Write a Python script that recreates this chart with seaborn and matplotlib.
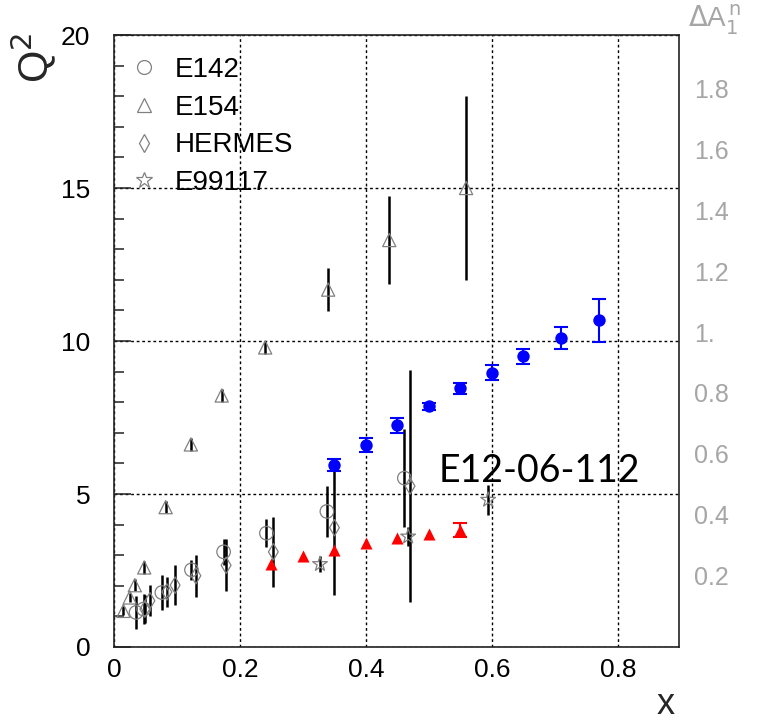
import matplotlib
matplotlib.use("Agg")
import matplotlib.pyplot as plt
from matplotlib.lines import Line2D
from matplotlib.ticker import MultipleLocator
import numpy as np
import pandas as pd
import seaborn as sns

# datos
e142_x = [0.035, 0.047, 0.076, 0.123, 0.174, 0.242, 0.338, 0.461]
e142_q2 = [1.13, 1.24, 1.78, 2.52, 3.11, 3.72, 4.43, 5.52]
e142_err = [0.55, 0.50, 0.57, 0.33, 0.42, 0.46, 0.83, 1.60]

e154_x = [0.015, 0.025, 0.033, 0.048, 0.082, 0.122, 0.171, 0.240, 0.340, 0.437, 0.559]
e154_q2 = [1.18, 1.62, 2.02, 2.60, 4.57, 6.62, 8.22, 9.79, 11.68, 13.3, 15.0]
e154_err = [0.15, 0.15, 0.20, 0.20, 0.20, 0.20, 0.20, 0.20, 0.70, 1.45, 3.0]

hermes_x = [0.049, 0.057, 0.084, 0.097, 0.130, 0.178, 0.253, 0.350, 0.470]
hermes_q2 = [1.24, 1.51, 1.80, 2.02, 2.33, 2.67, 3.11, 3.90, 5.26]
hermes_err = [0.45, 0.50, 0.50, 0.65, 0.68, 0.85, 1.14, 2.20, 3.80]

e99117_x = [0.327, 0.467, 0.594]
e99117_q2 = [2.71, 3.61, 4.81]
e99117_err = [0.25, 0.30, 0.50]

new_x = [0.35, 0.40, 0.45, 0.50, 0.55, 0.60, 0.65, 0.71, 0.77]
new_q2 = [5.94, 6.59, 7.24, 7.86, 8.45, 8.97, 9.50, 10.10, 10.67]
new_err = [0.20, 0.23, 0.26, 0.10, 0.17, 0.26, 0.24, 0.35, 0.70]

red_x = [0.25, 0.30, 0.35, 0.40, 0.45, 0.50, 0.55]
red_q2 = [2.71, 2.98, 3.17, 3.39, 3.55, 3.69, 3.82]
red_err = [0, 0, 0, 0, 0, 0, 0.22]

right_ticks = [0.2, 0.4, 0.6, 0.8, 1.0, 1.2, 1.4, 1.6, 1.8]
right_labels = ["0.2", "0.4", "0.6", "0.8", "1.", "1.2", "1.4", "1.6", "1.8"]

sns.set_theme(style="white")
plt.rcParams["font.family"] = ["Liberation Sans", "DejaVu Sans"]

W, H = 761, 721
fig = plt.figure(figsize=(W / 100, H / 100), dpi=100)
ax = fig.add_axes([114 / W, 1 - 647 / H, (679 - 114) / W, (647 - 35) / H])

gray = "#808080"
open_sets = [
    ("E142", e142_x, e142_q2, e142_err, "o", 95),
    ("E154", e154_x, e154_q2, e154_err, "^", 90),
    ("HERMES", hermes_x, hermes_q2, hermes_err, "d", 70),
    ("E99117", e99117_x, e99117_q2, e99117_err, "*", 125),
]
for name, xs, ys, es, mk, size in open_sets:
    ax.errorbar(xs, ys, yerr=es, fmt="none", ecolor="black", elinewidth=1.8, zorder=2)
    df = pd.DataFrame({"x": xs, "Q2": ys})
    sns.scatterplot(data=df, x="x", y="Q2", marker=mk, s=size, facecolors="none",
                    edgecolor=gray, linewidth=0.9, ax=ax, zorder=3)

# E12-06-112 proyectado
ax.errorbar(new_x, new_q2, yerr=new_err, fmt="none", ecolor="blue", elinewidth=1.5,
            capsize=5, capthick=1.5, zorder=4)
sns.scatterplot(x=new_x, y=new_q2, marker="o", s=80, color="blue", edgecolor="blue",
                linewidth=0, ax=ax, zorder=5)

red_mask = np.array(red_err) > 0
ax.errorbar(np.array(red_x)[red_mask], np.array(red_q2)[red_mask],
            yerr=np.array(red_err)[red_mask], fmt="none", ecolor="red",
            elinewidth=1.5, capsize=5, capthick=1.5, zorder=4)
sns.scatterplot(x=red_x, y=red_q2, marker="^", s=75, color="red", edgecolor="red",
                linewidth=0, ax=ax, zorder=5)

ax.set_xlim(0, 0.897)
ax.set_ylim(0, 20)
ax.xaxis.set_major_locator(MultipleLocator(0.2))
ax.xaxis.set_minor_locator(MultipleLocator(0.05))
ax.yaxis.set_major_locator(MultipleLocator(5))
ax.yaxis.set_minor_locator(MultipleLocator(1))
ax.set_xticks([0, 0.2, 0.4, 0.6, 0.8])
ax.set_xticklabels(["0", "0.2", "0.4", "0.6", "0.8"])
ax.tick_params(which="both", direction="in", color="#222222", width=1.1,
               top=False, right=False, labelsize=19, labelcolor="black")
ax.tick_params(which="major", length=12)
ax.tick_params(which="minor", length=7)
ax.tick_params(axis="y", pad=17)
ax.tick_params(axis="x", pad=8)
ax.grid(True, which="major", color="black", linestyle=(0, (2, 2)), linewidth=1)
ax.set_xlabel("")
ax.set_ylabel("")
for sp in ax.spines.values():
    sp.set_color("#222222")
    sp.set_linewidth(1.2)

ax2 = ax.twinx()
ax2.set_ylim(-0.033, 1.974)
ax2.set_yticks(right_ticks)
ax2.set_yticklabels(right_labels)
ax2.tick_params(axis="y", length=0, pad=11, labelsize=18, labelcolor="#a6a6a6")
ax2.grid(False)
for sp in ax2.spines.values():
    sp.set_visible(False)

handles = [Line2D([], [], ls="none", marker=m, mfc="none", mec=gray, mew=0.9, ms=ms)
           for m, ms in [("o", 10), ("^", 10), ("d", 9), ("*", 12)]]
leg = ax.legend(handles, ["E142", "E154", "HERMES", "E99117"], loc="upper left",
                bbox_to_anchor=(-0.015, 1.005), frameon=False, fontsize=20,
                handlelength=1.0, handletextpad=0.6, labelspacing=0.42,
                borderaxespad=0.5)
for t in leg.get_texts():
    t.set_color("black")

ax.text(0.676, 5.75, "E12-06-112", fontsize=27, family=["Lato", "DejaVu Sans"],
        ha="center", va="center", color="black", zorder=6)

fig.text(34 / W, 1 - 58 / H, r"Q$^2$", rotation=90, fontsize=30, ha="center", va="center")
fig.text(666 / W, 1 - 714 / H, "x", fontsize=26, ha="center", va="baseline")
fig.text(688 / W, 1 - 27 / H, r"$\Delta$A$_1^{\,\mathrm{n}}$", fontsize=20,
         color="#a6a6a6", ha="left", va="baseline")

fig.savefig("out.png", dpi=100)
